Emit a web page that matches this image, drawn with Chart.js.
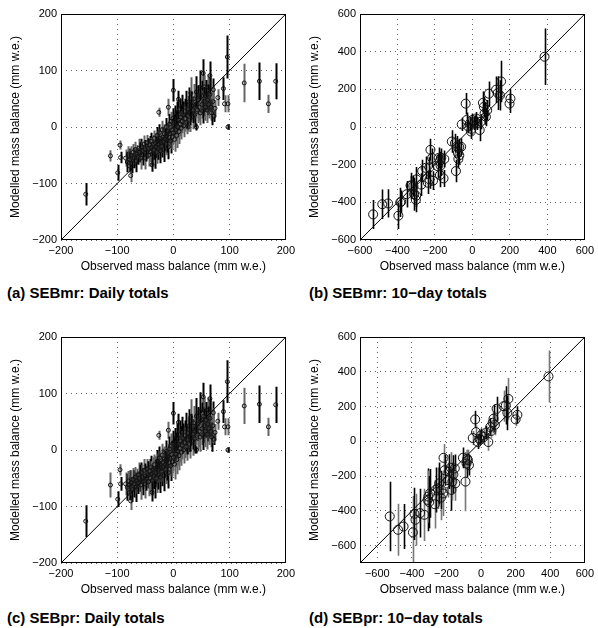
<!DOCTYPE html>
<html lang="en">
<head>
<meta charset="UTF-8">
<script src="https://cdn.jsdelivr.net/npm/chart.js@4.4.0/dist/chart.umd.min.js"></script>
<title>Mass balance - observed vs modelled</title>
<style>
  body { margin: 0; background: #fff; width: 598px; height: 628px; position: relative; overflow: hidden; }
  .panel { position: absolute; width: 299px; height: 280px; }
  .cap { position: absolute; font: bold 15px "Liberation Sans", Arial, sans-serif; line-height: 18px; color: #000; white-space: nowrap; }
</style>
</head>
<body>

<div class="panel" style="left:0;top:0"><canvas id="pa" width="299" height="280"></canvas></div>
<div class="panel" style="left:299px;top:0"><canvas id="pb" width="299" height="280"></canvas></div>
<div class="panel" style="left:0;top:323px"><canvas id="pc" width="299" height="280"></canvas></div>
<div class="panel" style="left:299px;top:323px"><canvas id="pd" width="299" height="280"></canvas></div>

<div class="cap" style="left:7px;top:284px">(a) SEBmr: Daily totals</div>
<div class="cap" style="left:309px;top:284px">(b) SEBmr: 10−day totals</div>
<div class="cap" style="left:7px;top:609px">(c) SEBpr: Daily totals</div>
<div class="cap" style="left:309px;top:609px">(d) SEBpr: 10−day totals</div>

<script>
// daily totals: observed (shared by a and c), modelled and error half-widths (mm w.e.)
const obsDaily = [
  -156,-112,-99,-95,-94,-79,-78,-76,-38,-26,0,-9,9,26,41,47,53,55,65,62,71,74,72,79,89,91,96,97,97,126,153,169,182,
  -85,-82,-80,-78,-75,-73,-72,-70,-68,-67,
  -65,-63,-62,-60,-58,-57,-55,-54,-52,-50,
  -50,-48,-47,-45,-44,-42,-41,-40,-39,-38,
  -36,-35,-34,-33,-32,-31,-30,-29,-28,-27,
  -26,-25,-24,-23,-22,-21,-20,-19,-18,-17,
  -16,-15,-14,-13,-12,-11,-10,-9,-8,-7,
  -6,-5,-4,-3,-2,-1,0,1,2,3,
  4,5,6,7,8,9,10,11,12,13,
  14,15,16,17,18,20,21,22,24,25,
  26,28,29,30,31,32,34,35,36,38,
  40,41,43,44,46,47,48,50,51,52,
  54,55,57,58,60,61,63,65,67,68,70
];
const modA = [
  -119,-51,-81,-32,-54,-51,-69,-86,-67,26,65,35,49,0,0,55,95,71,91,71,66,33,19,52,68,41,124,41,0,78,81,41,81,
  -55,-62,-48,-58,-50,-65,-45,-55,-40,-60,
  -48,-52,-38,-45,-55,-35,-42,-50,-30,-40,
  -55,-45,-28,-38,-50,-32,-44,-25,-36,-48,
  -30,-40,-20,-52,-28,-36,-45,-15,-25,-38,
  -30,-10,-20,-42,-28,-34,-5,-18,-26,-40,
  -12,-22,-30,0,-15,-24,-8,-35,-18,5,
  -12,-25,10,-5,-18,15,-10,2,-22,20,
  -5,8,-15,25,0,12,-8,30,5,18,
  -2,35,10,22,2,28,15,40,8,20,
  32,45,12,25,60,38,18,30,50,22,
  40,62,30,48,35,70,25,55,40,28,
  62,45,35,55,30,48,40,58,35,25,45
];
const errA = [
  20,10,14,8,10,12,12,12,12,8,20,15,15,8,6,18,25,20,25,22,20,15,10,15,20,15,38,15,5,34,33,16,32,
  15,18,14,20,16,17,15,18,14,20,
  16,15,17,18,20,14,16,18,15,17,
  20,16,14,18,20,16,18,15,17,20,
  16,18,14,22,17,19,20,15,18,20,
  19,15,17,22,18,20,16,18,20,22,
  17,19,20,16,18,21,17,22,19,18,
  20,22,17,19,21,18,20,19,22,18,
  20,21,22,20,21,19,22,20,21,22,
  20,22,21,23,20,22,23,24,21,22,
  23,25,21,22,28,24,22,23,26,22,
  25,28,23,26,24,30,22,27,25,22,
  30,26,24,28,23,27,25,30,24,22,27
];
const modC = [
  -126,-62,-87,-35,-60,-62,-75,-90,-75,26,65,35,49,0,0,55,94,71,91,71,66,31,19,51,68,41,121,41,0,78,81,41,80,
  -60,-66,-55,-62,-58,-70,-52,-60,-48,-66,
  -55,-58,-44,-50,-62,-40,-48,-56,-36,-46,
  -60,-50,-34,-44,-56,-38,-50,-30,-42,-54,
  -35,-45,-26,-58,-33,-42,-50,-20,-30,-44,
  -34,-14,-24,-48,-32,-38,-9,-22,-30,-45,
  -16,-26,-34,-3,-19,-28,-12,-40,-22,2,
  -15,-28,7,-8,-21,12,-13,0,-25,17,
  -7,6,-17,23,-2,10,-10,28,3,16,
  -4,33,8,20,0,26,13,38,6,18,
  30,43,10,23,58,36,16,28,48,20,
  38,60,28,46,33,68,23,53,38,26,
  60,43,33,53,28,46,38,56,33,23,43
];
const errC = [
  28,22,14,10,12,14,14,16,16,8,20,15,15,8,6,18,25,20,25,22,20,15,10,15,20,15,38,15,5,32,33,16,32,
  20,24,18,26,22,22,20,24,18,26,
  22,20,22,24,26,18,22,24,20,22,
  26,22,18,24,26,22,24,20,22,26,
  22,24,18,28,22,24,26,20,24,26,
  24,20,22,28,24,26,20,24,26,28,
  22,24,26,20,24,26,22,28,24,22,
  25,27,22,24,26,22,25,24,27,22,
  24,25,26,24,25,23,26,24,25,26,
  24,26,25,27,24,26,27,28,25,26,
  27,29,25,26,32,28,26,27,30,26,
  29,32,27,30,28,34,26,31,29,26,
  34,30,28,32,27,31,29,34,28,26,31
];

// 10-day totals, SEBmr (b)
const obsB = [-530,-481,-450,-395,-385,-380,-351,-329,-315,-311,-302,-299,-273,-268,-250,-238,-229,-224,-215,-185,
  -180,-175,-173,-166,-154,-110,-93,-88,-82,-78,-75,-70,-57,-36,-31,-22,-14,-8,-1,9,
  16,26,39,44,56,61,65,72,79,88,126,135,153,147,198,203,385,-230,-210,-330,-300,-170,-150,-60,-70,-5,20];
const modB = [-464,-410,-406,-471,-400,-397,-357,-313,-313,-357,-387,-278,-306,-234,-217,-296,-278,-121,-164,-208,
  -164,-182,-255,-164,-273,-77,-86,-234,-103,-138,-170,-107,14,124,37,2,19,-24,37,19,
  28,19,-16,28,128,107,72,54,89,177,198,180,242,168,124,151,373,-215,-285,-310,-365,-205,-170,-105,-150,-10,45];
const errB = [77,78,75,70,78,60,70,70,55,88,65,65,60,60,60,60,50,58,50,65,
  55,50,65,50,45,60,50,60,55,50,50,45,35,57,40,35,35,40,35,35,
  35,35,60,40,60,55,60,50,55,65,70,90,110,80,50,50,150,55,50,50,60,55,45,45,50,30,35];

// 10-day totals, SEBpr (d)
const obsD = [-528,-480,-448,-394,-385,-379,-352,-328,-309,-305,-295,-267,-263,-251,-242,-232,-229,-217,-210,-190,
  -185,-175,-171,-166,-152,-149,-105,-90,-84,-76,-70,-48,-34,-29,-19,-10,0,15,29,42,
  53,67,72,80,90,130,143,158,152,200,210,390,-300,-220,-160,-80,-5,60];
const modD = [-432,-509,-490,-524,-417,-451,-413,-423,-337,-318,-299,-362,-280,-270,-242,-324,-280,-95,-166,-223,
  -175,-152,-280,-232,-156,-242,-95,-232,-128,-109,-137,19,126,53,-4,15,34,25,50,-4,
  82,107,130,95,187,202,206,244,164,126,152,373,-350,-300,-190,-100,10,60];
const errD = [200,150,130,210,150,150,140,150,180,150,140,140,130,120,120,130,110,80,90,100,
  100,90,120,110,80,100,60,170,80,60,60,40,50,40,40,50,40,45,40,50,
  50,60,80,60,70,90,110,120,100,40,50,150,150,130,110,50,30,40];

// axis ticks and labels
const ticksDaily = [-200, -100, 0, 100, 200];
const labelsDaily = ['−200', '−100', '0', '100', '200'];
const ticksTen = [-600, -400, -200, 0, 200, 400, 600];
const labelsTen = ['−600', '−400', '−200', '0', '200', '400', '600'];
const rangeDaily = [-200, 200];
const rangeB = [-600, 600];
const rangeD = [-700, 600];

const FONT = '"Liberation Sans", Arial, sans-serif';

const errorBars = {
  id: 'errorBars',
  beforeDatasetsDraw(chart, args, opts) {
    const {ctx, chartArea: a, scales: {x, y}} = chart;
    const ds = chart.data.datasets[0];
    ctx.save();
    ctx.beginPath();
    ctx.rect(a.left, a.top, a.width, a.height);
    ctx.clip();
    ctx.lineWidth = opts.width;
    ds.data.forEach((p, i) => {
      const e = ds.err[i];
      const px = Math.round(x.getPixelForValue(p.x)) + 0.5;
      ctx.strokeStyle = opts.colors[i % opts.colors.length];
      ctx.beginPath();
      ctx.moveTo(px, y.getPixelForValue(p.y - e));
      ctx.lineTo(px, y.getPixelForValue(p.y + e));
      ctx.stroke();
    });
    ctx.restore();
  }
};

const frame = {
  id: 'frame',
  afterDraw(chart) {
    const {ctx, chartArea: a} = chart;
    ctx.save();
    ctx.strokeStyle = '#000';
    ctx.lineWidth = 1;
    ctx.strokeRect(Math.round(a.left) + 0.5, Math.round(a.top) + 0.5,
      Math.round(a.width) - 1, Math.round(a.height) - 1);
    ctx.restore();
  }
};

function axis(range, ticks, labels, title, horizontal) {
  return {
    type: 'linear',
    min: range[0],
    max: range[1],
    afterBuildTicks: s => { s.ticks = ticks.map(v => ({value: v})); },
    afterFit: s => { if (horizontal) s.height = 40; else s.width = 61; },
    ticks: {
      autoSkip: false,
      maxRotation: 0,
      padding: 4,
      color: '#000',
      font: {family: FONT, size: 11},
      callback: v => labels[ticks.indexOf(v)]
    },
    grid: {color: '#666', lineWidth: 1, drawTicks: false},
    border: {display: false, dash: [1, 4]},
    title: {
      display: true,
      text: title,
      color: '#000',
      font: {family: FONT, size: 12},
      padding: horizontal ? {top: 0, bottom: 6} : {top: 8, bottom: 0}
    }
  };
}

function panel(id, obs, mod, err, range, ticks, labels, radius, barWidth, colors) {
  const pts = obs.map((v, i) => ({x: v, y: mod[i]}));
  new Chart(document.getElementById(id), {
    type: 'scatter',
    data: {
      datasets: [{
        data: pts,
        err: err,
        pointStyle: 'circle',
        pointRadius: radius,
        pointBorderWidth: 1,
        pointBorderColor: '#111',
        pointBackgroundColor: 'rgba(0,0,0,0)'
      }, {
        type: 'line',
        data: range.map(v => ({x: v, y: v})),
        borderColor: '#000',
        borderWidth: 1,
        pointRadius: 0,
        fill: false
      }]
    },
    options: {
      responsive: false,
      animation: false,
      devicePixelRatio: 1,
      layout: {padding: {left: 0, top: 14, right: 11, bottom: 0}},
      plugins: {
        legend: {display: false},
        tooltip: {enabled: false},
        errorBars: {width: barWidth, colors: colors}
      },
      scales: {
        x: axis(range, ticks, labels, 'Observed mass balance (mm w.e.)', true),
        y: axis(range, ticks, labels, 'Modelled mass balance (mm w.e.)', false)
      }
    },
    plugins: [errorBars, frame]
  });
}

panel('pa', obsDaily, modA, errA, rangeDaily, ticksDaily, labelsDaily, 2, 2, ['#000', '#666']);
panel('pb', obsB, modB, errB, rangeB, ticksTen, labelsTen, 4.5, 1.6, ['#000']);
panel('pc', obsDaily, modC, errC, rangeDaily, ticksDaily, labelsDaily, 2, 2, ['#000', '#666']);
panel('pd', obsD, modD, errD, rangeD, ticksTen, labelsTen, 4.5, 1.6, ['#000', '#777']);
</script>

</body>
</html>
